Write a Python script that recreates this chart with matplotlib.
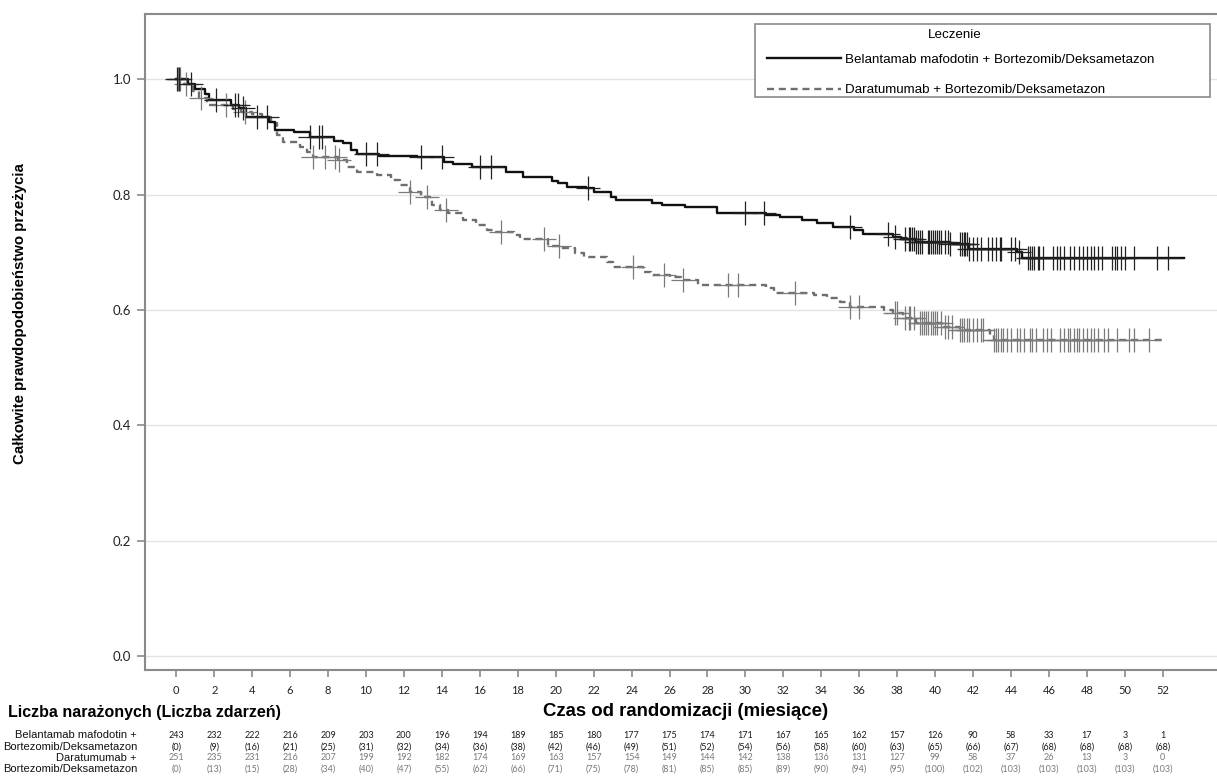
import numpy as np
import matplotlib
matplotlib.use("Agg")
import matplotlib.pyplot as plt
import matplotlib.transforms as mtransforms
from matplotlib.patches import Rectangle

# Kaplan-Meier step points (months, survival)
bv_t = [0, 0.6, 1.0, 1.5, 1.7, 2.9, 3.3, 3.7, 4.9, 5.2, 6.2, 7.05, 8.3, 8.8, 9.2,
        9.5, 10.7, 12.7, 14.1, 14.6, 15.6, 17.4, 18.3, 19.8, 20.1, 20.6, 21.6, 22.0,
        22.9, 23.2, 25.1, 25.6, 26.8, 28.5, 31.1, 31.8, 33.0, 33.8, 34.6, 35.7, 36.2,
        37.8, 38.2, 39.0, 40.8, 41.8, 44.3, 44.6, 53.1]
bv_s = [1.0, 0.992, 0.984, 0.975, 0.964, 0.956, 0.950, 0.935, 0.926, 0.912, 0.909,
        0.900, 0.893, 0.890, 0.878, 0.871, 0.867, 0.866, 0.857, 0.853, 0.848, 0.840,
        0.831, 0.824, 0.820, 0.814, 0.812, 0.805, 0.796, 0.791, 0.786, 0.782, 0.779,
        0.768, 0.765, 0.761, 0.756, 0.751, 0.744, 0.739, 0.732, 0.727, 0.723, 0.718,
        0.714, 0.706, 0.701, 0.690, 0.690]

dv_t = [0, 0.4, 0.9, 1.2, 1.6, 3.0, 3.4, 4.0, 4.5, 5.0, 5.3, 5.6, 6.5, 6.9, 7.2,
        8.5, 9.0, 9.5, 10.6, 11.3, 11.8, 12.3, 12.9, 13.5, 13.9, 14.3, 15.1, 15.8,
        16.4, 16.7, 17.8, 18.1, 19.6, 20.3, 21.0, 21.5, 22.7, 23.0, 24.6, 25.0, 26.0,
        26.6, 27.5, 31.1, 31.5, 33.6, 34.3, 35.0, 35.5, 37.3, 37.8, 38.3, 39.0, 40.4,
        41.3, 42.9, 43.1, 52.0]
dv_s = [1.0, 0.992, 0.980, 0.968, 0.955, 0.948, 0.944, 0.940, 0.935, 0.925, 0.904,
        0.892, 0.883, 0.874, 0.866, 0.860, 0.849, 0.840, 0.834, 0.826, 0.817, 0.805,
        0.797, 0.782, 0.774, 0.768, 0.756, 0.748, 0.739, 0.735, 0.730, 0.723, 0.711,
        0.708, 0.699, 0.692, 0.683, 0.675, 0.666, 0.661, 0.658, 0.652, 0.644, 0.638,
        0.630, 0.626, 0.621, 0.614, 0.605, 0.600, 0.595, 0.586, 0.578, 0.571, 0.565,
        0.557, 0.548, 0.548]

# censoring times
bv_cens = [0.05, 0.15, 0.8, 2.1, 3.1, 3.25, 3.5, 4.25, 4.8, 7.05, 7.5, 7.7, 10.0, 10.6,
           12.9, 14.0, 16.0, 16.6, 21.7, 30.0, 31.0, 35.5, 37.5, 37.9, 38.4, 38.6, 38.7,
           38.8, 38.9, 39.0, 39.1, 39.2, 39.3, 39.6, 39.7, 39.8, 39.9, 40.0, 40.1, 40.2,
           40.3, 40.5, 40.7, 40.8, 41.3, 41.4, 41.5, 41.6, 41.7, 41.8, 42.0, 42.2, 42.4,
           42.8, 43.0, 43.2, 43.4, 43.5, 44.0, 44.2, 44.4, 44.9, 45.0, 45.1, 45.2, 45.4,
           45.5, 45.7, 46.2, 46.4, 46.6, 46.8, 47.1, 47.3, 47.6, 47.8, 48.0, 48.2, 48.4,
           48.6, 48.8, 49.3, 49.5, 49.6, 49.8, 50.0, 50.5, 51.7, 52.3]
dv_cens = [0.1, 0.2, 0.5, 1.3, 2.6, 3.6, 7.2, 7.85, 8.35, 8.6, 12.3, 13.2, 14.2, 17.1,
           19.4, 20.2, 24.1, 25.7, 26.7, 29.1, 29.6, 32.6, 35.5, 36.0, 37.9, 38.0, 38.4,
           38.6, 38.7, 38.9, 39.2, 39.3, 39.4, 39.5, 39.6, 39.8, 39.9, 40.0, 40.1, 40.3,
           40.5, 40.7, 40.9, 41.3, 41.4, 41.5, 41.7, 41.8, 42.0, 42.2, 42.4, 42.5, 43.1,
           43.2, 43.3, 43.5, 43.6, 43.8, 44.0, 44.3, 44.5, 44.7, 45.0, 45.1, 45.3, 45.7,
           45.9, 46.1, 46.6, 46.8, 47.0, 47.1, 47.3, 47.5, 47.6, 47.8, 48.0, 48.2, 48.4,
           48.6, 48.9, 49.1, 49.6, 50.2, 50.5, 51.3]

# number at risk table
risk_times = list(range(0, 53, 2))
bv_risk = [243, 232, 222, 216, 209, 203, 200, 196, 194, 189, 185, 180, 177, 175, 174,
           171, 167, 165, 162, 157, 126, 90, 58, 33, 17, 3, 1]
bv_events = [0, 9, 16, 21, 25, 31, 32, 34, 36, 38, 42, 46, 49, 51, 52, 54, 56, 58, 60,
             63, 65, 66, 67, 68, 68, 68, 68]
dv_risk = [251, 235, 231, 216, 207, 199, 192, 182, 174, 169, 163, 157, 154, 149, 144,
           142, 138, 136, 131, 127, 99, 58, 37, 26, 13, 3, 0]
dv_events = [0, 13, 15, 28, 34, 40, 47, 55, 62, 66, 71, 75, 78, 81, 85, 85, 89, 90, 94,
             95, 100, 102, 103, 103, 103, 103, 103]

bv_label = "Belantamab mafodotin + Bortezomib/Deksametazon"
dv_label = "Daratumumab + Bortezomib/Deksametazon"

LAB = "Liberation Sans"
NUM = "Lato"
SPINE = "#8a8a8a"
BV_COL = "#111111"
DV_COL = "#6e6e6e"


def surv_at(times, surv, t):
    idx = np.searchsorted(times, t, side="right") - 1
    return np.asarray(surv)[idx]


fig = plt.figure(figsize=(12.17, 7.76), dpi=100)
ax = fig.add_axes([145 / 1217, 1 - 670 / 776, 1 - 145 / 1217, (670 - 14) / 776])

ax.set_xlim(-1.65, 54.86)
ax.set_ylim(-0.0243, 1.1136)
ax.set_yticks(np.arange(0, 1.01, 0.2))
ax.set_yticklabels(["%.1f" % v for v in np.arange(0, 1.01, 0.2)])
ax.set_xticks(risk_times)
ax.grid(axis="y", color="#e3e3e3", lw=1.0)
ax.set_axisbelow(True)

for s in ["left", "bottom", "top"]:
    ax.spines[s].set_color(SPINE)
    ax.spines[s].set_linewidth(1.5)
ax.spines["right"].set_visible(False)
ax.tick_params(axis="y", length=6, width=1.2, color=SPINE, labelsize=9.5, pad=4)
ax.tick_params(axis="x", length=5, width=1.2, color=SPINE, labelsize=8, pad=6)
for lab in ax.get_xticklabels() + ax.get_yticklabels():
    lab.set_family(NUM)
    lab.set_color("#222222")

# curves
ax.step(bv_t, bv_s, where="post", color=BV_COL, lw=1.7, label=bv_label, zorder=4)
ax.step(dv_t, dv_s, where="post", color=DV_COL, lw=1.7, dashes=(3, 2),
        label=dv_label, zorder=3)

# censor marks
ax.plot(bv_cens, surv_at(bv_t, bv_s, bv_cens), ls="none", marker="+", ms=17,
        mew=0.9, color="#222222", zorder=5)
ax.plot(dv_cens, surv_at(dv_t, dv_s, dv_cens), ls="none", marker="+", ms=17,
        mew=0.9, color="#7a7a7a", zorder=4)

# legend: box + title drawn separately so spacing matches
ax.add_patch(Rectangle(((755 - 145) / 1072, (670 - 97) / 656), 455 / 1072, 73 / 656,
                       transform=ax.transAxes, facecolor="white", edgecolor=SPINE,
                       lw=1.2, zorder=6))
ax.text((955 - 145) / 1072, (670 - 35) / 656, "Leczenie", transform=ax.transAxes,
        ha="center", va="center", family=LAB, fontsize=9.6, zorder=7)
leg = ax.legend(loc="upper left", bbox_to_anchor=((767 - 145) / 1072, (670 - 53.5) / 656),
                prop={"family": LAB, "size": 9.65}, handlelength=5.5,
                handletextpad=0.35, labelspacing=1.35, borderpad=0, borderaxespad=0,
                frameon=False)
leg.set_zorder(7)

# axis titles
fig.text(20 / 1217, 1 - 314 / 776, "Całkowite prawdopodobieństwo przeżycia",
         rotation=90, ha="center", va="center", family=LAB, weight="bold",
         fontsize=10.8)
fig.text(686 / 1217, 1 - 712 / 776, "Czas od randomizacji (miesiące)",
         ha="center", va="center", family=LAB, weight="bold", fontsize=13.4)
fig.text(8 / 1217, 1 - 712 / 776, "Liczba narażonych (Liczba zdarzeń)",
         ha="left", va="center", family=LAB, weight="bold", fontsize=11.5)

# number at risk table
row_y = [735, 747, 758, 769]
row_labels = ["Belantamab mafodotin +", "Bortezomib/Deksametazon",
              "Daratumumab +", "Bortezomib/Deksametazon"]
rows = [bv_risk, ["(%d)" % v for v in bv_events],
        dv_risk, ["(%d)" % v for v in dv_events]]
row_cols = ["#1a1a1a", "#1a1a1a", "#7a7a7a", "#7a7a7a"]
trans = mtransforms.blended_transform_factory(ax.transData, fig.transFigure)
for y, lab, vals, col in zip(row_y, row_labels, rows, row_cols):
    yf = 1 - y / 776
    fig.text(137 / 1217, yf, lab, ha="right", va="center", family=LAB,
             fontsize=8, color="#111111")
    for t, v in zip(risk_times, vals):
        ax.text(t, yf, str(v), transform=trans, ha="center", va="center",
                family=NUM, fontsize=6.5, color=col, clip_on=False)

fig.savefig("out.png", dpi=100)
